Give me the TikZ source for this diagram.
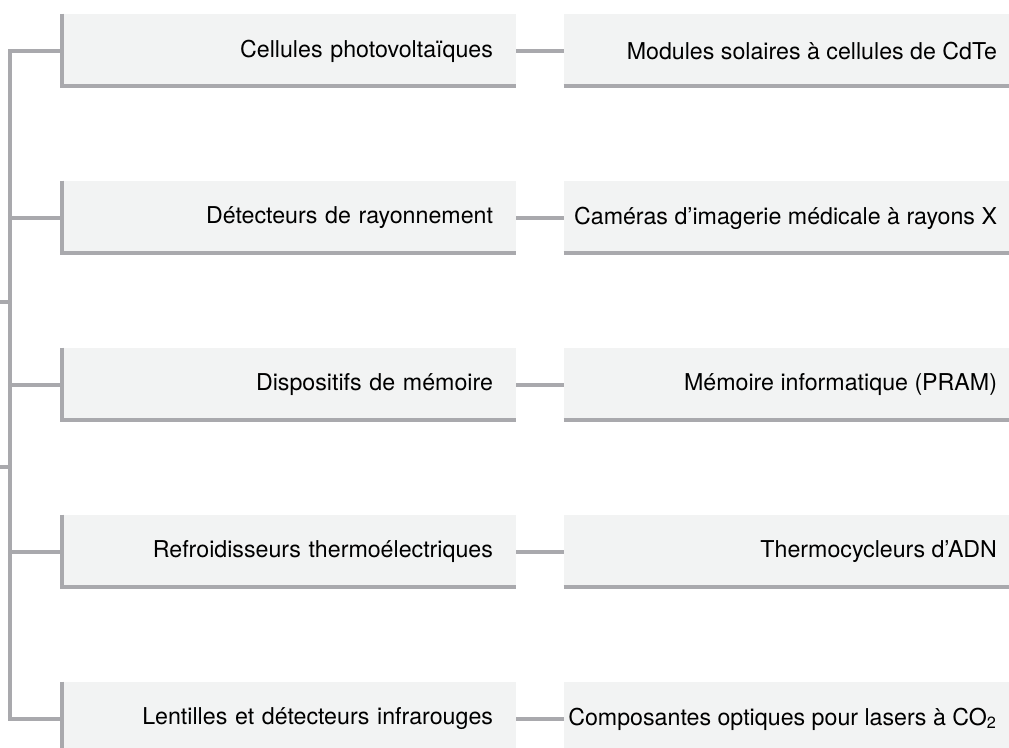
\documentclass[tikz,border=0pt]{standalone}
\usepackage{fontspec}
\setmainfont{TeX Gyre Heros}
\usepackage{xcolor}
\usepackage{tikz}
\usetikzlibrary{calc}
\definecolor{boxfill}{HTML}{F2F3F3}
\definecolor{linegray}{HTML}{A9A9AD}
\newcommand{\apptext}[1]{\makebox[210.5pt][r]{#1}}

\begin{document}
\begin{tikzpicture}[x=0.5pt,y=-0.5pt,
  usebox/.style={fill=boxfill,inner ysep=0pt,inner xsep=11.5pt,minimum height=37pt,
    text width=205pt,align=right,font=\fontsize{11.6}{13.5}\selectfont},
  appbox/.style={fill=boxfill,inner ysep=0pt,inner xsep=0pt,minimum height=37pt,
    minimum width=222.5pt,font=\fontsize{11.6}{13.5}\selectfont},
  link/.style={draw=linegray,line width=2pt},
  rim/.style={draw=linegray,line width=2pt}]
\useasboundingbox (0,0) rectangle (1009,748);

\node[usebox] (cell) at (288,51) {Cellules photovoltaïques};
\node[usebox] (detect) at (288,218) {Détecteurs de rayonnement};
\node[usebox] (memo) at (288,385) {Dispositifs de mémoire};
\node[usebox] (cool) at (288,552) {Refroidisseurs thermoélectriques};
\node[usebox] (lens) at (288,719) {Lentilles et détecteurs infrarouges};

\node[appbox] (solar) at (786.5,51) {\apptext{Modules solaires à cellules de CdTe}};
\node[appbox] (camera) at (786.5,218) {\apptext{Caméras d’imagerie médicale à rayons X}};
\node[appbox] (pram) at (786.5,385) {\apptext{Mémoire informatique (PRAM)}};
\node[appbox] (dna) at (786.5,552) {\apptext{Thermocycleurs d’ADN}};
\node[appbox] (optic) at (786.5,719) {\apptext{Composantes optiques pour lasers à CO\textsubscript{2}}};

% edges of the boxes
\draw[rim] ([xshift=1pt]cell.north west) |- ([yshift=1pt]cell.south east);
\draw[rim] ([xshift=1pt]detect.north west) |- ([yshift=1pt]detect.south east);
\draw[rim] ([xshift=1pt]memo.north west) |- ([yshift=1pt]memo.south east);
\draw[rim] ([xshift=1pt]cool.north west) |- ([yshift=1pt]cool.south east);
\draw[rim] ([xshift=1pt]lens.north west) |- ([yshift=1pt]lens.south east);
\draw[rim] ([yshift=1pt]solar.south west) -- ([yshift=1pt]solar.south east);
\draw[rim] ([yshift=1pt]camera.south west) -- ([yshift=1pt]camera.south east);
\draw[rim] ([yshift=1pt]pram.south west) -- ([yshift=1pt]pram.south east);
\draw[rim] ([yshift=1pt]dna.south west) -- ([yshift=1pt]dna.south east);

% tree
\coordinate (spine) at (10,385);
\coordinate (in1) at (0,302);
\coordinate (in2) at (0,467);
\draw[link] (cell.west) -| (spine) |- (lens.west);
\draw[link] (detect.west) -- (detect.west -| spine);
\draw[link] (memo.west) -- (memo.west -| spine);
\draw[link] (cool.west) -- (cool.west -| spine);
\draw[link] (in1) -- (in1 -| spine);
\draw[link] (in2) -- (in2 -| spine);

\draw[link] (cell) -- (solar);
\draw[link] (detect) -- (camera);
\draw[link] (memo) -- (pram);
\draw[link] (cool) -- (dna);
\draw[link] (lens) -- (optic);
\end{tikzpicture}
\end{document}
